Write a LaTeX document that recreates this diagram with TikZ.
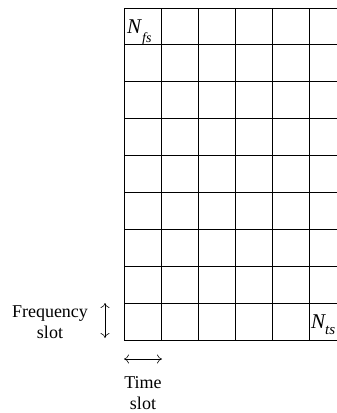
\documentclass[tikz,border=0pt]{standalone}
\usepackage{fontspec}
\setmainfont{Liberation Serif}
\usetikzlibrary{arrows.meta}
\tikzset{
  gridline/.style={line width=0.9pt, black},
  slotarrow/.style={line width=0.6pt, {To[length=5pt,width=9pt]}-{To[length=5pt,width=9pt]}},
  lbl/.style={font=\fontsize{18}{20.5}\selectfont, align=center, inner sep=0pt},
  cornerlbl/.style={inner sep=0pt, anchor=base west}
}
\begin{document}
\begin{tikzpicture}[x=1pt,y=-1pt]
\useasboundingbox (0,0) rectangle (337,413);
% grid
\foreach \i in {0,...,5} {
  \draw[gridline] ({124+37*\i},8) -- ({124+37*\i},340);
}
\foreach \j in {0,...,9} {
  \draw[gridline] (124,{8+36.89*\j}) -- (337,{8+36.89*\j});
}
% corner labels
\node[cornerlbl] (nfs) at (127,33) {\fontsize{21}{21}\selectfont\itshape N\kern1pt\raisebox{-9pt}{\fontsize{14}{14}\selectfont fs}};
\node[cornerlbl] (nts) at (311,328) {\fontsize{21}{21}\selectfont\itshape N\raisebox{-6pt}{\fontsize{15}{15}\selectfont ts}};
% frequency slot
\coordinate (ftop) at (105,303);
\coordinate (fbot) at (105,338);
\draw[slotarrow] (ftop) -- (fbot);
\node[lbl] (freq) at (50,322) {Frequency\\slot};
% time slot
\coordinate (tl) at (124,359);
\coordinate (tr) at (162,359);
\draw[slotarrow] (tl) -- (tr);
\node[lbl] (time) at (143,393) {Time\\slot};
\end{tikzpicture}
\end{document}
